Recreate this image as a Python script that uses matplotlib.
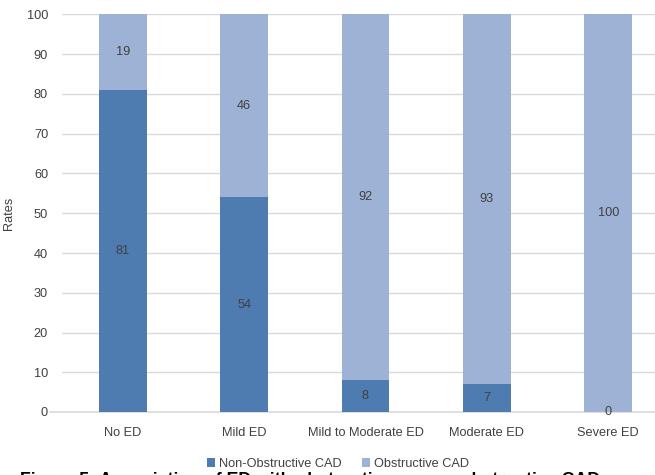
import matplotlib
matplotlib.use("Agg")
import matplotlib.pyplot as plt
from matplotlib.font_manager import fontManager
import numpy as np

categories = ["No ED", "Mild ED", "Mild to Moderate ED", "Moderate ED", "Severe ED"]
non_obstructive = [81, 54, 8, 7, 0]
obstructive = [19, 46, 92, 93, 100]
series_names = ["Non-Obstructive CAD", "Obstructive CAD"]
y_ticks = [0, 10, 20, 30, 40, 50, 60, 70, 80, 90, 100]
caption = "Figure 5: Association of ED with obstructive vs non-obstructive CAD"

available = {f.name for f in fontManager.ttflist}
narrow = "Liberation Sans Narrow" if "Liberation Sans Narrow" in available else "Liberation Sans"
plt.rcParams["font.family"] = [narrow, "DejaVu Sans"]

dark = "#4E7CB0"
light = "#9EB2D6"
text_c = "#404040"
grid_c = "#D9D9D9"
fs = 9.2

W, H = 655, 475
fig = plt.figure(figsize=(W / 100, H / 100), dpi=100)
left, right, top, bottom = 62, 669, 14.5, 412
ax = fig.add_axes([left / W, 1 - bottom / H, (right - left) / W, (bottom - top) / H])

x = np.arange(len(categories))
bw = 0.395
b1 = ax.bar(x, non_obstructive, bw, color=dark, label=series_names[0], zorder=3)
b2 = ax.bar(x, obstructive, bw, bottom=non_obstructive, color=light,
            label=series_names[1], zorder=3)

for i in range(len(categories)):
    ax.text(x[i], non_obstructive[i] / 2, str(non_obstructive[i]), ha="center",
            va="center", fontsize=fs, color=text_c, zorder=4)
    ax.text(x[i], non_obstructive[i] + obstructive[i] / 2, str(obstructive[i]),
            ha="center", va="center", fontsize=fs, color=text_c, zorder=4)

ax.set_xlim(-0.5, len(categories) - 0.5)
ax.set_ylim(0, 100)
ax.set_yticks(y_ticks)
ax.set_xticks(x)
ax.set_xticklabels(categories)
ax.tick_params(axis="both", length=0, labelsize=fs, labelcolor=text_c)
ax.tick_params(axis="y", pad=10)
ax.tick_params(axis="x", pad=11)
ax.grid(axis="y", color=grid_c, linewidth=1, zorder=0)
for s in ax.spines.values():
    s.set_visible(False)
ax.axhline(0, xmin=-12 / (right - left), xmax=1, color=grid_c, linewidth=1.2,
           clip_on=False, zorder=2)
ax.set_ylabel("Rates", fontsize=fs, color=text_c)
ax.yaxis.set_label_coords((15 - left) / (right - left), 0.5)

fig.legend(handles=[b1, b2], labels=series_names, loc="center",
           bbox_to_anchor=(338 / W, 1 - 464 / H), ncol=2, frameon=False,
           fontsize=fs, labelcolor=text_c, handlelength=0.6, handleheight=0.6,
           handletextpad=0.3, columnspacing=1.6, borderpad=0.2)

# Figure caption sits at the lower edge of the canvas
fig.text(20 / W, 1 - 485 / H, caption, ha="left", va="baseline",
         fontsize=12.8, fontweight="bold", color="black",
         family=["Liberation Sans", "DejaVu Sans"])

fig.savefig("out.png", dpi=100)
